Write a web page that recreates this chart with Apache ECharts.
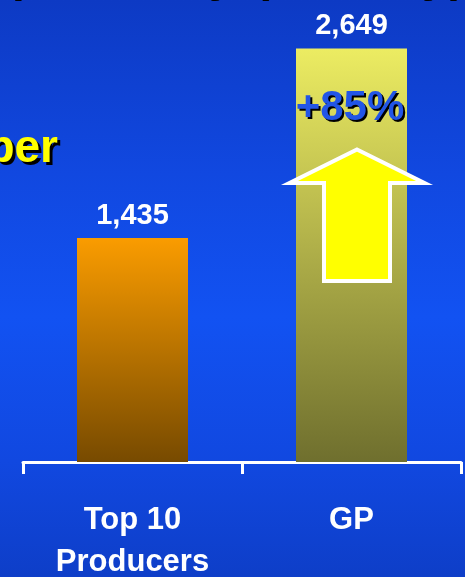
<!DOCTYPE html>
<html>
<head>
<meta charset="utf-8">
<script src="https://cdn.jsdelivr.net/npm/echarts@6/dist/echarts.min.js"></script>
<style>
  html, body { margin: 0; padding: 0; }
  #chart {
    width: 465px; height: 577px;
    background: linear-gradient(to bottom, #0d3ac4 0%, #1148e0 30%, #1252f2 55%, #1148e0 80%, #0e3ec8 100%);
  }
</style>
</head>
<body>
<div id="chart"></div>
<script>
// Producers per category
const categories = ['Top 10\nProducers', 'GP'];
const values = [1435, 2649];
const changeLabel = '+85%';
const sideLabel = 'Number';

// Bar gradients (top colour, bottom colour)
const barTop = ['#fa9c00', '#ecec62'];
const barBottom = ['#774a00', '#6f6f2e'];

const FONT = '"Liberation Sans", Arial, sans-serif';
const withCommas = v => String(v).replace(/\B(?=(\d{3})+(?!\d))/g, ',');

const chart = echarts.init(document.getElementById('chart'), null, { renderer: 'canvas' });

chart.setOption({
  backgroundColor: 'transparent',
  animation: false,
  grid: { left: 23, right: 4, top: 0, bottom: 115, containLabel: false, outerBoundsMode: 'none' },
  xAxis: {
    type: 'category',
    data: categories,
    boundaryGap: true,
    axisLine: { show: true, lineStyle: { color: '#ffffff', width: 3 } },
    axisTick: { show: true, length: 12, lineStyle: { color: '#ffffff', width: 3 } },
    axisLabel: {
      interval: 0, margin: 37, color: '#ffffff',
      fontFamily: FONT, fontWeight: 'bold', fontSize: 31, lineHeight: 42
    }
  },
  yAxis: { type: 'value', min: 0, max: 2960, show: false, splitLine: { show: false } },
  series: [{
    type: 'bar',
    barWidth: 111,
    data: values.map((v, i) => ({
      value: v,
      itemStyle: {
        color: new echarts.graphic.LinearGradient(0, 0, 0, 1, [
          { offset: 0, color: barTop[i] },
          { offset: 1, color: barBottom[i] }
        ])
      }
    })),
    label: {
      show: true, position: 'top', distance: 8,
      color: '#ffffff', fontFamily: FONT, fontWeight: 'bold', fontSize: 29,
      formatter: p => withCommas(p.value)
    }
  }]
});

// Decorations anchored to the GP bar
const [gpX, gpTopY] = chart.convertToPixel({ xAxisIndex: 0, yAxisIndex: 0 }, [1, values[1]]);

function shadowText(text, x, y, size, fill, align, off) {
  return [
    { type: 'text', z: 10, style: { text, x: x + off, y: y + off, font: `bold ${size}px ${FONT}`, fill: '#000000', align, verticalAlign: 'middle' } },
    { type: 'text', z: 11, style: { text, x, y, font: `bold ${size}px ${FONT}`, fill, align, verticalAlign: 'middle' } }
  ];
}

const arrowPts = [
  [gpX + 5.5, gpTopY + 101],
  [gpX + 73, gpTopY + 134.5],
  [gpX + 38.5, gpTopY + 134.5],
  [gpX + 38.5, gpTopY + 232.5],
  [gpX - 27.5, gpTopY + 232.5],
  [gpX - 27.5, gpTopY + 134.5],
  [gpX - 62, gpTopY + 134.5]
];

const graphics = [
  {
    type: 'polygon', z: 10,
    shape: { points: arrowPts },
    style: { fill: '#ffff00', stroke: '#ffffff', lineWidth: 4, lineJoin: 'miter' }
  },
  ...shadowText(changeLabel, gpX - 1.5, gpTopY + 60, 42, '#2255e6', 'center', 2),
  ...shadowText(sideLabel, 58, 149, 46, '#ffff00', 'right', 3),
  // heading line above, mostly outside the view
  ...shadowText('p', 10, -24, 46, '#fcc868', 'left', 2),
  ...shadowText('y', 207, -24, 46, '#fcc868', 'left', 2),
  ...shadowText('(', 252, -24, 46, '#fcc868', 'left', 2),
  ...shadowText('y', 420, -24, 46, '#fcc868', 'left', 2),
  ...shadowText(')', 448, -24, 46, '#fcc868', 'left', 2)
];

chart.setOption({ graphic: graphics });
</script>
</body>
</html>
